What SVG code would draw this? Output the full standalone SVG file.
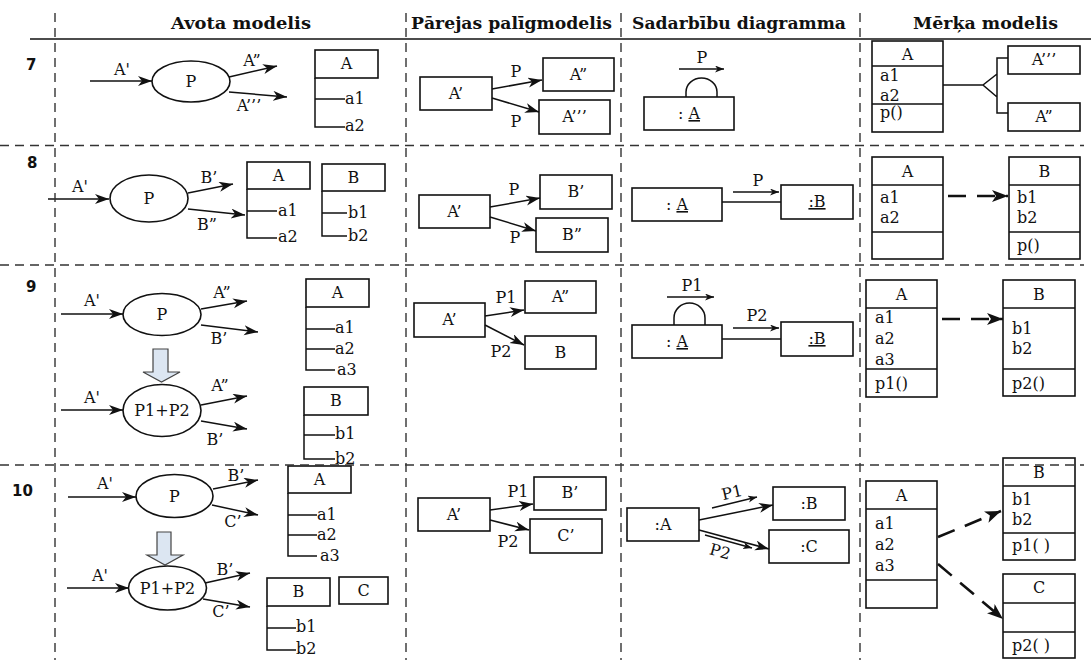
<svg xmlns="http://www.w3.org/2000/svg" width="1091" height="660" viewBox="0 0 1091 660">
  <style>
    .t{font-family:"DejaVu Serif",serif;font-size:16px;fill:#111}
    .c{text-anchor:middle}
    .h{font-family:"DejaVu Serif",serif;font-weight:bold;font-size:16px;fill:#111}
    .n{font-family:"DejaVu Sans",sans-serif;font-weight:bold;font-size:15px;fill:#111}
    .box{fill:#fff;stroke:#111;stroke-width:1.6}
    .ln{fill:none;stroke:#111;stroke-width:1.5}
    .arr{fill:none;stroke:#111;stroke-width:1.5;marker-end:url(#ah)}
    .msg{fill:none;stroke:#111;stroke-width:1.3;marker-end:url(#ahs)}
    .dep{fill:none;stroke:#111;stroke-width:2.6;stroke-dasharray:18 11;marker-end:url(#ahd)}
    .grid{fill:none;stroke:#333;stroke-width:1.4;stroke-dasharray:9 6}
    .blk{fill:#dce6f2;stroke:#444;stroke-width:1.2}
    .u{text-decoration:underline}
  </style>
  <defs>
    <marker id="ah" markerUnits="userSpaceOnUse" markerWidth="15" markerHeight="11" refX="14" refY="5" orient="auto">
      <path d="M0,0 L14,5 L0,10 L4,5 Z" fill="#111"/>
    </marker>
    <marker id="ahs" markerUnits="userSpaceOnUse" markerWidth="10" markerHeight="8" refX="9" refY="3.5" orient="auto">
      <path d="M0,0 L9,3.5 L0,7 L2.5,3.5 Z" fill="#111"/>
    </marker>
    <marker id="ahd" markerUnits="userSpaceOnUse" markerWidth="17" markerHeight="13" refX="16" refY="6" orient="auto">
      <path d="M0,0 L16,6 L0,12 L4,6 Z" fill="#111"/>
    </marker>
  </defs>

  <rect width="1091" height="660" fill="#fff"/>

  <!-- column headers -->
  <g id="headers">
    <line x1="30" y1="39" x2="1091" y2="39" stroke="#111" stroke-width="1.5"/>
    <text class="h" x="171" y="29" textLength="140" lengthAdjust="spacingAndGlyphs">Avota modelis</text>
    <text class="h" x="411" y="29" textLength="201" lengthAdjust="spacingAndGlyphs">Pārejas palīgmodelis</text>
    <text class="h" x="632" y="29" textLength="214" lengthAdjust="spacingAndGlyphs">Sadarbību diagramma</text>
    <text class="h" x="913" y="29" textLength="145" lengthAdjust="spacingAndGlyphs">Mērķa modelis</text>
  </g>

  <!-- row numbers -->
  <g id="row-numbers">
    <text class="n" x="26" y="70">7</text>
    <text class="n" x="27" y="168">8</text>
    <text class="n" x="26" y="292">9</text>
    <text class="n" x="12" y="496">10</text>
  </g>

  <!-- ===== row 7 ===== -->
  <g id="r7-src">
    <ellipse class="box" cx="191" cy="81.5" rx="39" ry="20.5"/>
    <text class="t c" x="191" y="87">P</text>
    <rect class="box" x="315" y="50" width="63" height="28"/>
    <text class="t c" x="346.5" y="69">A</text>
    <path class="ln" d="M315,78 V127 H345 M315,99 H345"/>
    <text class="t" x="345" y="104">a1</text>
    <text class="t" x="345" y="131">a2</text>
    <text class="t c" x="122" y="75">A'</text>
    <text class="t c" x="252" y="66">A”</text>
    <text class="t c" x="249" y="111">A’’’</text>
  </g>
  <g id="r7-aux">
    <rect class="box" x="420" y="77" width="72" height="33"/>
    <text class="t c" x="456" y="99">A’</text>
    <rect class="box" x="543" y="58" width="71" height="33"/>
    <text class="t c" x="578.5" y="80">A”</text>
    <rect class="box" x="539" y="100" width="71" height="34"/>
    <text class="t c" x="574.5" y="122">A’’’</text>
    <text class="t c" x="516" y="77">P</text>
    <text class="t c" x="516" y="127">P</text>
  </g>
  <g id="r7-collab">
    <rect class="box" x="644" y="97" width="90" height="33"/>
    <text class="t c" x="689" y="119">: <tspan class="u">A</tspan></text>
    <path class="ln" d="M686,97 V92 A15.5,14 0 0 1 717,92 V97"/>
    <text class="t c" x="702" y="63">P</text>
  </g>
  <g id="r7-target">
    <rect class="box" x="872" y="41" width="71" height="91"/>
    <path class="ln" d="M872,66 H943 M872,104 H943"/>
    <text class="t c" x="907.5" y="60">A</text>
    <text class="t" x="880" y="81">a1</text>
    <text class="t" x="880" y="101">a2</text>
    <text class="t" x="880" y="118">p()</text>
    <rect class="box" x="1008" y="46" width="72" height="28"/>
    <text class="t c" x="1044" y="65">A’’’</text>
    <rect class="box" x="1008" y="103" width="72" height="28"/>
    <text class="t c" x="1044" y="122">A”</text>
  </g>

  <!-- ===== row 8 ===== -->
  <g id="r8-src">
    <ellipse class="box" cx="149" cy="198.5" rx="39" ry="23.5"/>
    <text class="t c" x="149" y="204">P</text>
    <rect class="box" x="247" y="162" width="63" height="27"/>
    <text class="t c" x="278.5" y="181">A</text>
    <path class="ln" d="M247,189 V238 H277 M247,211 H277"/>
    <text class="t" x="278" y="216">a1</text>
    <text class="t" x="278" y="242">a2</text>
    <rect class="box" x="322" y="164" width="63" height="27"/>
    <text class="t c" x="353.5" y="183">B</text>
    <path class="ln" d="M322,191 V236 H347 M322,213 H347"/>
    <text class="t" x="348" y="218">b1</text>
    <text class="t" x="348" y="241">b2</text>
    <text class="t c" x="80" y="192">A'</text>
    <text class="t c" x="209" y="183">B’</text>
    <text class="t c" x="207" y="230">B”</text>
  </g>
  <g id="r8-aux">
    <rect class="box" x="419" y="195" width="71" height="33"/>
    <text class="t c" x="454.5" y="217">A’</text>
    <rect class="box" x="540" y="175" width="72" height="34"/>
    <text class="t c" x="576" y="197">B’</text>
    <rect class="box" x="536" y="218" width="72" height="34"/>
    <text class="t c" x="572" y="240">B”</text>
    <text class="t c" x="514" y="195">P</text>
    <text class="t c" x="515" y="243">P</text>
  </g>
  <g id="r8-collab">
    <rect class="box" x="632" y="188" width="90" height="33"/>
    <text class="t c" x="677" y="210">: <tspan class="u">A</tspan></text>
    <rect class="box" x="781" y="185" width="72" height="34"/>
    <text class="t c u" x="817" y="207">:B</text>
    <text class="t c" x="758" y="186">P</text>
  </g>
  <g id="r8-target">
    <rect class="box" x="872" y="157" width="71" height="102"/>
    <path class="ln" d="M872,185 H943 M872,232 H943"/>
    <text class="t c" x="907.5" y="177">A</text>
    <text class="t" x="880" y="203">a1</text>
    <text class="t" x="880" y="223">a2</text>
    <rect class="box" x="1009" y="157" width="71" height="102"/>
    <path class="ln" d="M1009,185 H1080 M1009,232 H1080"/>
    <text class="t c" x="1044.5" y="177">B</text>
    <text class="t" x="1017" y="203">b1</text>
    <text class="t" x="1017" y="223">b2</text>
    <text class="t" x="1017" y="251">p()</text>
  </g>

  <!-- ===== row 9 ===== -->
  <g id="r9-src">
    <ellipse class="box" cx="162" cy="314.5" rx="39" ry="21"/>
    <text class="t c" x="162" y="320">P</text>
    <path class="blk" d="M153,349 H168 V372 H180 L161.5,382 L143,372 H153 Z"/>
    <ellipse class="box" cx="162" cy="410.5" rx="39" ry="26"/>
    <text class="t c" x="162" y="416">P1+P2</text>
    <rect class="box" x="306" y="279" width="63" height="28"/>
    <text class="t c" x="337.5" y="298">A</text>
    <path class="ln" d="M306,307 V370 H335 M306,329 H335 M306,349 H335"/>
    <text class="t" x="335" y="333">a1</text>
    <text class="t" x="335" y="354">a2</text>
    <text class="t" x="337" y="375">a3</text>
    <rect class="box" x="304" y="387" width="64" height="28"/>
    <text class="t c" x="336" y="406">B</text>
    <path class="ln" d="M304,415 V459 H335 M304,435 H335"/>
    <text class="t" x="335" y="439">b1</text>
    <text class="t" x="335" y="464">b2</text>
    <text class="t c" x="92" y="306">A'</text>
    <text class="t c" x="222" y="298">A”</text>
    <text class="t c" x="219" y="344">B’</text>
    <text class="t c" x="92" y="403">A'</text>
    <text class="t c" x="220" y="391">A”</text>
    <text class="t c" x="215" y="445">B’</text>
  </g>
  <g id="r9-aux">
    <rect class="box" x="414" y="303" width="71" height="34"/>
    <text class="t c" x="449.5" y="325">A’</text>
    <rect class="box" x="525" y="281" width="71" height="32"/>
    <text class="t c" x="560.5" y="302">A”</text>
    <rect class="box" x="525" y="336" width="71" height="33"/>
    <text class="t c" x="560.5" y="358">B</text>
    <text class="t c" x="506" y="303">P1</text>
    <text class="t c" x="501" y="357">P2</text>
  </g>
  <g id="r9-collab">
    <rect class="box" x="632" y="325" width="90" height="33"/>
    <text class="t c" x="677" y="347">: <tspan class="u">A</tspan></text>
    <path class="ln" d="M674,325 V318 A15.5,15 0 0 1 705,318 V325"/>
    <text class="t c" x="692" y="291">P1</text>
    <rect class="box" x="781" y="322" width="72" height="34"/>
    <text class="t c u" x="817" y="344">:B</text>
    <text class="t c" x="757" y="321">P2</text>
  </g>
  <g id="r9-target">
    <rect class="box" x="866" y="280" width="71" height="117"/>
    <path class="ln" d="M866,308 H937 M866,369 H937"/>
    <text class="t c" x="901.5" y="300">A</text>
    <text class="t" x="875" y="323">a1</text>
    <text class="t" x="875" y="344">a2</text>
    <text class="t" x="875" y="365">a3</text>
    <text class="t" x="875" y="389">p1()</text>
    <rect class="box" x="1003" y="280" width="72" height="116"/>
    <path class="ln" d="M1003,308 H1075 M1003,369 H1075"/>
    <text class="t c" x="1039" y="300">B</text>
    <text class="t" x="1012" y="334">b1</text>
    <text class="t" x="1012" y="354">b2</text>
    <text class="t" x="1012" y="389">p2()</text>
  </g>

  <!-- ===== row 10 ===== -->
  <g id="r10-src">
    <ellipse class="box" cx="174.5" cy="496" rx="38.5" ry="21.5"/>
    <text class="t c" x="174.5" y="502">P</text>
    <path class="blk" d="M157,532 H171 V555 H183 L165,565 L147,555 H157 Z"/>
    <ellipse class="box" cx="167.5" cy="588" rx="39" ry="22"/>
    <text class="t c" x="167.5" y="594">P1+P2</text>
    <rect class="box" x="288" y="466" width="63" height="27"/>
    <text class="t c" x="319.5" y="485">A</text>
    <path class="ln" d="M288,493 V556 H317 M288,515 H317 M288,535 H317"/>
    <text class="t" x="317" y="520">a1</text>
    <text class="t" x="317" y="540">a2</text>
    <text class="t" x="320" y="561">a3</text>
    <rect class="box" x="267" y="578" width="63" height="28"/>
    <text class="t c" x="298.5" y="597">B</text>
    <path class="ln" d="M267,606 V650 H296 M267,628 H296"/>
    <text class="t" x="296" y="632">b1</text>
    <text class="t" x="296" y="654">b2</text>
    <rect class="box" x="339" y="577" width="49" height="27"/>
    <text class="t c" x="363.5" y="596">C</text>
    <text class="t c" x="105" y="489">A'</text>
    <text class="t c" x="236" y="481">B’</text>
    <text class="t c" x="233" y="527">C’</text>
    <text class="t c" x="100" y="581">A'</text>
    <text class="t c" x="225" y="575">B’</text>
    <text class="t c" x="221" y="617">C’</text>
  </g>
  <g id="r10-aux">
    <rect class="box" x="418" y="498" width="72" height="33"/>
    <text class="t c" x="454" y="520">A’</text>
    <rect class="box" x="534" y="477" width="72" height="33"/>
    <text class="t c" x="570" y="498">B’</text>
    <rect class="box" x="530" y="519" width="72" height="34"/>
    <text class="t c" x="566" y="541">C’</text>
    <text class="t c" x="518" y="497">P1</text>
    <text class="t c" x="508" y="547">P2</text>
  </g>
  <g id="r10-collab">
    <rect class="box" x="627" y="508" width="72" height="33"/>
    <text class="t c" x="663" y="530">:A</text>
    <rect class="box" x="773" y="487" width="72" height="33"/>
    <text class="t c" x="809" y="509">:B</text>
    <rect class="box" x="769" y="530" width="80" height="33"/>
    <text class="t c" x="809" y="552">:C</text>
    <text class="t c" x="732" y="498" transform="rotate(-13 732 493)">P1</text>
    <text class="t c" x="720" y="557" transform="rotate(15 720 552)">P2</text>
  </g>
  <g id="r10-target">
    <rect class="box" x="866" y="481" width="71" height="127"/>
    <path class="ln" d="M866,509 H937 M866,580 H937"/>
    <text class="t c" x="901.5" y="501">A</text>
    <text class="t" x="875" y="529">a1</text>
    <text class="t" x="875" y="550">a2</text>
    <text class="t" x="875" y="571">a3</text>
    <rect class="box" x="1003" y="458" width="72" height="102"/>
    <path class="ln" d="M1003,486 H1075 M1003,533 H1075"/>
    <text class="t c" x="1039" y="478">B</text>
    <text class="t" x="1012" y="505">b1</text>
    <text class="t" x="1012" y="525">b2</text>
    <text class="t" x="1012" y="551">p1( )</text>
    <rect class="box" x="1003" y="574" width="72" height="84"/>
    <path class="ln" d="M1003,603 H1075 M1003,632 H1075"/>
    <text class="t c" x="1039" y="593">C</text>
    <text class="t" x="1012" y="651">p2( )</text>
  </g>

  <!-- connectors -->
  <g id="connectors">
    <!-- row 7 -->
    <line class="arr" x1="90" y1="81" x2="152" y2="81"/>
    <line class="arr" x1="229" y1="77" x2="277" y2="66"/>
    <line class="arr" x1="229" y1="92" x2="287" y2="97"/>
    <line class="arr" x1="492" y1="89" x2="542" y2="80"/>
    <line class="arr" x1="492" y1="98" x2="539" y2="112"/>
    <line class="msg" x1="679" y1="69" x2="724" y2="69"/>
    <path class="ln" d="M943,85 H983 M997,74 L983,85 L997,97 M1008,58 H997 V113 H1008"/>
    <!-- row 8 -->
    <line class="arr" x1="48" y1="199" x2="109" y2="199"/>
    <line class="arr" x1="188" y1="193" x2="233" y2="184"/>
    <line class="arr" x1="188" y1="209" x2="245" y2="215"/>
    <line class="arr" x1="490" y1="207" x2="540" y2="198"/>
    <line class="arr" x1="490" y1="217" x2="536" y2="231"/>
    <line class="ln" x1="722" y1="202" x2="781" y2="202"/>
    <line class="msg" x1="733" y1="192" x2="779" y2="192"/>
    <line class="dep" x1="948" y1="196" x2="1008" y2="196"/>
    <!-- row 9 -->
    <line class="arr" x1="61" y1="314" x2="123" y2="314"/>
    <line class="arr" x1="201" y1="309" x2="247" y2="301"/>
    <line class="arr" x1="201" y1="325" x2="258" y2="332"/>
    <line class="arr" x1="61" y1="410" x2="123" y2="410"/>
    <line class="arr" x1="201" y1="405" x2="247" y2="396"/>
    <line class="arr" x1="201" y1="421" x2="247" y2="429"/>
    <line class="arr" x1="485" y1="316" x2="524" y2="310"/>
    <line class="arr" x1="485" y1="325" x2="524" y2="345"/>
    <line class="msg" x1="667" y1="297" x2="714" y2="297"/>
    <line class="ln" x1="722" y1="339" x2="781" y2="339"/>
    <line class="msg" x1="733" y1="328" x2="779" y2="328"/>
    <line class="dep" x1="942" y1="319" x2="1003" y2="319"/>
    <!-- row 10 -->
    <line class="arr" x1="68" y1="497" x2="136" y2="497"/>
    <line class="arr" x1="213" y1="489" x2="258" y2="480"/>
    <line class="arr" x1="212" y1="505" x2="258" y2="515"/>
    <line class="arr" x1="67" y1="588" x2="129" y2="588"/>
    <line class="arr" x1="205" y1="583" x2="250" y2="573"/>
    <line class="arr" x1="203" y1="599" x2="250" y2="607"/>
    <line class="arr" x1="490" y1="510" x2="533" y2="504"/>
    <line class="arr" x1="490" y1="520" x2="529" y2="530"/>
    <line class="arr" x1="699" y1="520" x2="773" y2="505"/>
    <line class="arr" x1="699" y1="530" x2="769" y2="549"/>
    <line class="msg" x1="712" y1="508" x2="757" y2="497"/>
    <line class="msg" x1="705" y1="535" x2="752" y2="548"/>
    <line class="dep" x1="938" y1="537" x2="1001" y2="511"/>
    <line class="dep" x1="938" y1="564" x2="1003" y2="619"/>
  </g>

  <!-- table grid -->
  <g id="grid">
    <line class="grid" x1="55" y1="13" x2="55" y2="660"/>
    <line class="grid" x1="406" y1="13" x2="406" y2="660"/>
    <line class="grid" x1="621" y1="13" x2="621" y2="660"/>
    <line class="grid" x1="860" y1="13" x2="860" y2="660"/>
    <line class="grid" x1="0" y1="145.5" x2="1084" y2="145.5"/>
    <line class="grid" x1="0" y1="265" x2="1084" y2="265"/>
    <line class="grid" x1="0" y1="465" x2="1084" y2="465"/>
  </g>
</svg>
